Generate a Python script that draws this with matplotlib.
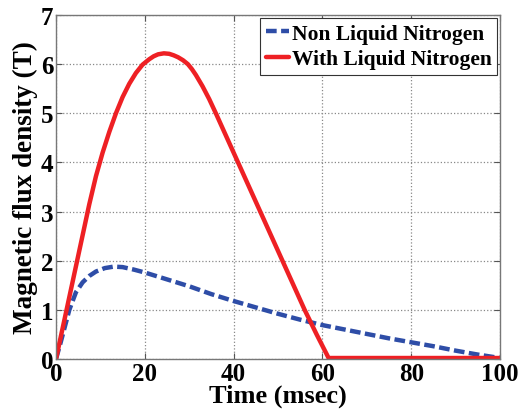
import matplotlib
matplotlib.use("Agg")
import matplotlib.pyplot as plt

t_non = [0, 1, 2, 3, 4.5, 6, 7.5, 9, 11, 13, 15, 17.5, 20, 25, 30, 35, 40, 45, 50,
         55, 60, 65, 70, 75, 80, 85, 90, 95, 100]
b_non = [0, 0.32, 0.66, 1.0, 1.36, 1.56, 1.69, 1.78, 1.85, 1.88, 1.87, 1.82, 1.76,
         1.62, 1.48, 1.32, 1.18, 1.05, 0.92, 0.80, 0.69, 0.60, 0.51, 0.42, 0.34, 0.26,
         0.17, 0.09, 0.02]

t_with = [0, 2.5, 5, 7.5, 9, 10.5, 12, 13.5, 15, 16.5, 18, 19.5, 21, 22, 23, 24.3,
          25.5, 26.5, 27.5, 28.6, 29.7, 30.6, 31.5, 33, 34.5, 36, 38.5, 41, 43.5, 46,
          48.5, 51, 53.5, 56, 58.7, 61.4, 70, 80, 90, 100]
b_with = [0, 1.05, 2.1, 3.15, 3.72, 4.2, 4.62, 5.0, 5.33, 5.6, 5.82, 5.99, 6.1, 6.16,
          6.2, 6.22, 6.21, 6.18, 6.14, 6.08, 6.0, 5.9, 5.78, 5.55, 5.29, 5.0, 4.5, 4.0,
          3.5, 3.0, 2.5, 2.0, 1.5, 1.0, 0.5, 0.02, 0.02, 0.02, 0.02, 0.02]

xticks = [0, 20, 40, 60, 80, 100]
yticks = [0, 1, 2, 3, 4, 5, 6, 7]

plt.rcParams['font.family'] = ['Liberation Serif', 'DejaVu Serif']
plt.rcParams['font.weight'] = 'bold'

fig = plt.figure(figsize=(5.25, 4.14), dpi=100)
ax = fig.add_axes([56/525, 1 - 360/414, (500-56)/525, (360-16)/414])

ax.plot(t_non, b_non, color='#2E4DA7', lw=3.2, ls=(0, (2.4, 1.0)),
        dash_capstyle='butt', dash_joinstyle='round', label='Non Liquid Nitrogen')
ax.plot(t_with, b_with, color='#EE2024', lw=3.2, solid_joinstyle='round',
        solid_capstyle='round', label='With Liquid Nitrogen')

ax.set_xlim(0, 100)
ax.set_ylim(0, 7)
ax.set_xticks(xticks)
ax.set_yticks(yticks)
ax.tick_params(direction='in', labelsize=18, length=4, pad=2, top=True, right=True, color='#555555')
for lab in ax.get_xticklabels() + ax.get_yticklabels():
    lab.set_fontweight('bold')
ax.grid(True, ls=':', color='#888888', lw=0.9)
for s in ax.spines.values():
    s.set_color('#777777')
    s.set_linewidth(1.0)

ax.set_xlabel('Time (msec)', fontsize=19, fontweight='bold', labelpad=-1)
ax.set_ylabel('Magnetic flux density (T)', fontsize=19.5, fontweight='bold', labelpad=2)

leg = ax.legend(loc='upper right', frameon=True, fancybox=False,
                handlelength=1.1, handletextpad=0.1, borderpad=0.25, labelspacing=0.25,
                borderaxespad=0.15, prop={'weight': 'bold', 'size': 15.5})
leg.get_frame().set_edgecolor('#333333')
leg.get_frame().set_linewidth(0.8)
leg.get_frame().set_alpha(1)

fig.savefig('out.png', dpi=100)
